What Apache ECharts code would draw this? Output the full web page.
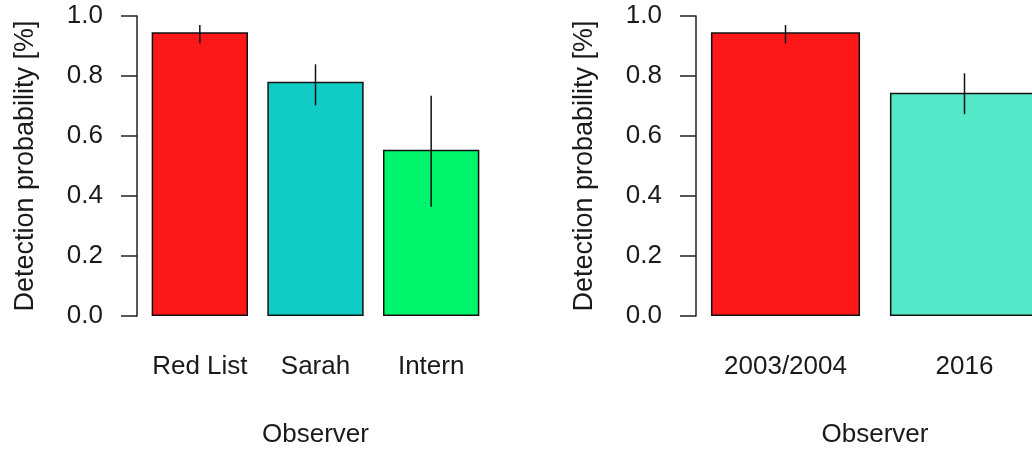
<!DOCTYPE html>
<html>
<head>
<meta charset="utf-8">
<script src="https://cdn.jsdelivr.net/npm/echarts@6/dist/echarts.min.js"></script>
<style>
  html, body { margin: 0; padding: 0; background: #fff; }
  #chart { width: 1032px; height: 450px; }
</style>
</head>
<body>
<div id="chart"></div>
<script>
// Panel A: detection probability by observer
const observersA = ['Red List', 'Sarah', 'Intern'];
const meanA = [0.946, 0.781, 0.554];
const lowerA = [0.909, 0.702, 0.364];
const upperA = [0.970, 0.839, 0.734];
const colorsA = ['#fc1818', '#10ccc4', '#00f46c'];

// Panel B: detection probability by survey period
const observersB = ['2003/2004', '2016'];
const meanB = [0.946, 0.744];
const lowerB = [0.909, 0.673];
const upperB = [0.970, 0.809];
const colorsB = ['#fc1818', '#55e8c8'];

const yTicks = [0, 0.2, 0.4, 0.6, 0.8, 1.0];

const FONT = 'Liberation Sans, Arial, sans-serif';
const TXT = '#1a1a1a';
const FS = 26;

function yAxis(gridIndex, offset) {
  return {
    type: 'value', gridIndex: gridIndex, min: yTicks[0], max: yTicks[yTicks.length - 1], interval: 0.2,
    offset: offset,
    name: 'Detection probability [%]', nameLocation: 'middle', nameGap: 98,
    nameTextStyle: { fontFamily: FONT, fontSize: 27, color: TXT },
    axisLine: { show: true, lineStyle: { color: '#222', width: 1.5 } },
    axisTick: { show: true, length: 16, lineStyle: { color: '#222', width: 1.5 } },
    axisLabel: { margin: 34, fontFamily: FONT, fontSize: FS, color: TXT, padding: [4, 0, 0, 0],
      formatter: v => v.toFixed(1) },
    splitLine: { show: false }
  };
}

function xAxis(gridIndex, cats) {
  return {
    type: 'category', gridIndex: gridIndex, data: cats,
    name: 'Observer', nameLocation: 'middle', nameGap: 106,
    nameTextStyle: { fontFamily: FONT, fontSize: FS, color: TXT },
    axisLine: { show: false }, axisTick: { show: false },
    axisLabel: { margin: 38, fontFamily: FONT, fontSize: FS, color: TXT, interval: 0 }
  };
}

function barSeries(idx, means, colors) {
  return {
    type: 'bar', xAxisIndex: idx, yAxisIndex: idx, barWidth: '83.3%',
    data: means.map((v, i) => ({ value: v, itemStyle: { color: colors[i] } })),
    itemStyle: { borderColor: '#111', borderWidth: 1.5 },
    silent: true, animation: false
  };
}

// Vertical interval line from lower to upper bound for each bar
function errorSeries(idx, lower, upper) {
  return {
    type: 'custom', xAxisIndex: idx, yAxisIndex: idx,
    data: lower.map((lo, i) => [i, lo, upper[i]]),
    renderItem: (params, api) => {
      const a = api.coord([api.value(0), api.value(1)]);
      const b = api.coord([api.value(0), api.value(2)]);
      return { type: 'line', shape: { x1: a[0], y1: a[1], x2: b[0], y2: b[1] },
        style: { stroke: '#111', lineWidth: 1.5 } };
    },
    z: 5, silent: true, animation: false
  };
}

const chart = echarts.init(document.getElementById('chart'), null, { renderer: 'canvas' });
chart.setOption({
  animation: false,
  backgroundColor: '#ffffff',
  grid: [
    { left: 142, top: 16, width: 347, bottom: 134, containLabel: false, outerBoundsMode: 'none' },
    { left: 696, top: 16, width: 358, bottom: 134, containLabel: false, outerBoundsMode: 'none' }
  ],
  xAxis: [xAxis(0, observersA), xAxis(1, observersB)],
  yAxis: [yAxis(0, 5), yAxis(1, 0)],
  series: [
    barSeries(0, meanA, colorsA), errorSeries(0, lowerA, upperA),
    barSeries(1, meanB, colorsB), errorSeries(1, lowerB, upperB)
  ]
});
</script>
</body>
</html>
